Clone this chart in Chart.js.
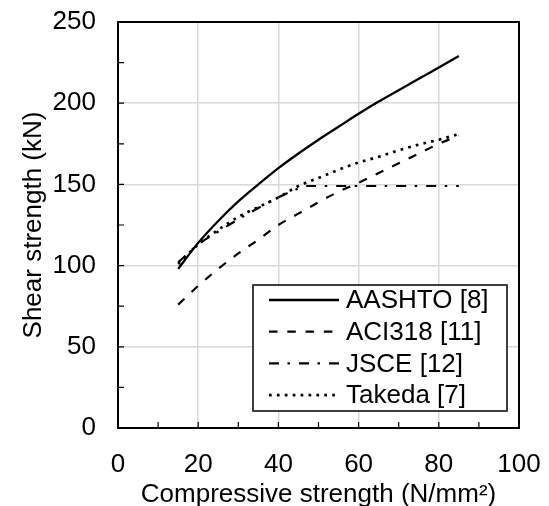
<!DOCTYPE html>
<html>
<head>
<meta charset="utf-8">
<script src="https://cdn.jsdelivr.net/npm/chart.js@4"></script>
<style>
html,body{margin:0;padding:0;background:#fff;}
#wrap{width:549px;height:506px;}
</style>
</head>
<body>
<div id="wrap"><canvas id="myChart"></canvas></div>
<script>
// compressive strength (N/mm2)
const fc = [15,20,25,30,35,40,45,50,55,60,65,70,75,80,85];
const aashto = [98,114,127.5,139.5,150,160,169,177.5,185.5,193.5,201,208,215,222,229];
const aci318 = [76,87.5,98,107.5,116,125,132,139,145.5,151,157,163,169,175,180];
const takeda = [101,113,122,130,136,142,149,154,159,163.5,167,171,174.5,177.5,181];
// JSCE has a cap, so it gets its own x values
const fcJsce = [15,20,25,30,35,40,45,47,50,55,60,65,70,75,80,85];
const jsce = [102,113,121,128.5,135.5,142,147.5,149,149,149,149,149,149,149,149,149];
const seriesNames = ['AASHTO [8]','ACI318 [11]','JSCE [12]','Takeda [7]'];
const xTicks = [0,20,40,60,80,100];
const yTicks = [0,50,100,150,200,250];

const font = "'Liberation Sans', Arial, sans-serif";

function pts(xs, ys){
    return xs.map((v,i) => ({x:v, y:ys[i]}));
}
// drop chart.js auto padding so the plot box sits where the layout padding says
function noPad(s){
    s.paddingTop = 0; s.paddingBottom = 0; s.paddingLeft = 0; s.paddingRight = 0;
}

// box border + small inward ticks
const frame = {
    id: 'frame',
    beforeDatasetsDraw(chart){
        const {ctx, chartArea: a, scales: {x, y}} = chart;
        ctx.save();
        ctx.strokeStyle = '#000';
        ctx.lineWidth = 1.2;
        ctx.beginPath();
        for (let v = 10; v < 100; v += 10) {
            const px = x.getPixelForValue(v);
            ctx.moveTo(px, a.bottom); ctx.lineTo(px, a.bottom - 6);
        }
        for (let v = 25; v < 250; v += 25) {
            const py = y.getPixelForValue(v);
            ctx.moveTo(a.left, py); ctx.lineTo(a.left + 6, py);
        }
        ctx.stroke();
        ctx.lineWidth = 2;
        ctx.strokeRect(a.left, a.top, a.width, a.height);
        ctx.restore();
    }
};

// legend in a white box inside the plot
const boxLegend = {
    id: 'boxLegend',
    afterDatasetsDraw(chart){
        const {ctx, chartArea: a} = chart;
        const x0 = a.right - 266, y0 = a.bottom - 143, w = 254, h = 126;
        ctx.save();
        ctx.fillStyle = '#fff';
        ctx.fillRect(x0, y0, w, h);
        ctx.strokeStyle = '#000';
        ctx.lineWidth = 1.5;
        ctx.strokeRect(x0, y0, w, h);
        chart.data.datasets.forEach((ds, i) => {
            const yy = y0 + 15 + i * 31.7;
            ctx.beginPath();
            ctx.setLineDash(ds.borderDash || []);
            ctx.lineWidth = ds.borderWidth;
            ctx.strokeStyle = ds.borderColor;
            ctx.moveTo(x0 + 16, yy); ctx.lineTo(x0 + 86, yy);
            ctx.stroke();
            ctx.setLineDash([]);
            ctx.fillStyle = '#000';
            ctx.font = '26px ' + font;
            ctx.textBaseline = 'middle';
            ctx.fillText(ds.label, x0 + 93, yy + 1);
        });
        ctx.restore();
    }
};

const ctx = document.getElementById('myChart');
const myChart = new Chart(ctx, {
    type: 'line',
    data: {
        datasets: [
            { label: seriesNames[0], data: pts(fc, aashto), borderColor: '#000', borderWidth: 2.3, pointRadius: 0, cubicInterpolationMode: 'monotone' },
            { label: seriesNames[1], data: pts(fc, aci318), borderColor: '#000', borderWidth: 2.2, borderDash: [8.5, 9.8], pointRadius: 0, cubicInterpolationMode: 'monotone' },
            { label: seriesNames[2], data: pts(fcJsce, jsce), borderColor: '#000', borderWidth: 2.2, borderDash: [10, 8.5, 2.5, 9], pointRadius: 0, cubicInterpolationMode: 'monotone' },
            { label: seriesNames[3], data: pts(fc, takeda), borderColor: '#000', borderWidth: 2.7, borderDash: [2.7, 5.2], pointRadius: 0, cubicInterpolationMode: 'monotone' }
        ]
    },
    options: {
        responsive: true,
        maintainAspectRatio: false,
        animation: false,
        layout: { padding: { top: 22, right: 30, left: 0, bottom: 0 } },
        plugins: { legend: { display: false }, tooltip: { enabled: false } },
        scales: {
            x: {
                type: 'linear', min: 0, max: 100,
                afterBuildTicks: s => { s.ticks = xTicks.map(v => ({value: v})); },
                afterFit: s => { s.height = 78; noPad(s); },
                grid: { color: '#d9d9d9', lineWidth: 1.5, drawTicks: false },
                border: { display: false },
                ticks: { color: '#000', font: { family: font, size: 26 }, padding: 21, maxRotation: 0 },
                title: { display: true, text: 'Compressive strength (N/mm²)', color: '#000', font: { family: font, size: 26 }, padding: { top: 0, bottom: -4 } }
            },
            y: {
                type: 'linear', min: 0, max: 250,
                afterBuildTicks: s => { s.ticks = yTicks.map(v => ({value: v})); },
                afterFit: s => { s.width = 118; noPad(s); },
                grid: { color: '#d9d9d9', lineWidth: 1.5, drawTicks: false },
                border: { display: false },
                ticks: { color: '#000', font: { family: font, size: 26 }, padding: 22 },
                title: { display: true, text: 'Shear strength (kN)', color: '#000', font: { family: font, size: 26 }, padding: { top: 18, bottom: 0 } }
            }
        }
    },
    plugins: [frame, boxLegend]
});
</script>
</body>
</html>
